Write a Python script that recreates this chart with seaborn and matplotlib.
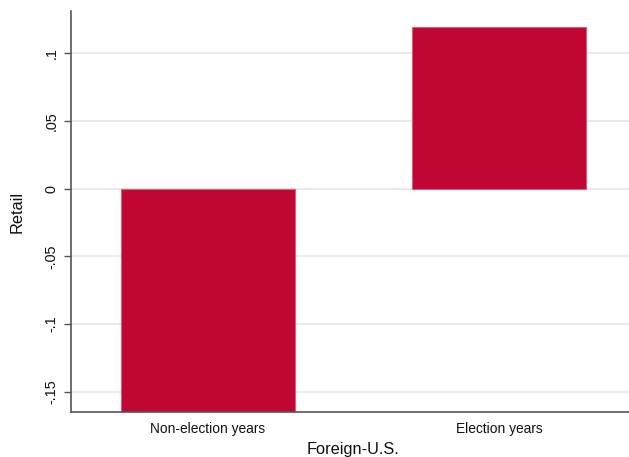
import matplotlib
matplotlib.use("Agg")
import matplotlib.pyplot as plt
import seaborn as sns
import pandas as pd

categories = ["Non-election years", "Election years"]
values = [-0.165, 0.119]
ytick_values = [-0.15, -0.1, -0.05, 0, 0.05, 0.1]
ytick_labels = ["-.15", "-.1", "-.05", "0", ".05", ".1"]

sns.set_theme(style="white")
plt.rcParams['font.family'] = ['Liberation Sans', 'DejaVu Sans']

df = pd.DataFrame({"group": categories, "value": values})

fig = plt.figure(figsize=(6.29, 4.57), dpi=100)
ax = fig.add_axes([0.1129, 0.0974, 1.011 - 0.1129, 0.976 - 0.0974])

ax.set_axisbelow(True)
ax.yaxis.grid(True, color="#E6E6E6", linewidth=1.2)
ax.xaxis.grid(False)

sns.barplot(data=df, x="group", y="value", order=categories, color="#C00633",
            saturation=1, width=0.595, edgecolor="#D9607A", linewidth=0.8, ax=ax)

ax.set_xlim(-0.47, 1.47)
ax.set_ylim(-0.1653, 0.1312)
ax.set_yticks(ytick_values)
ax.set_yticklabels(ytick_labels, rotation=90, va="center", fontsize=10.4, color="#111111")
ax.tick_params(axis="y", which="major", left=True, length=5, width=1, color="#555555", pad=4)
ax.tick_params(axis="x", length=0, pad=7, labelsize=9.9, labelcolor="#111111")

for s in ["top", "right"]:
    ax.spines[s].set_visible(False)
for s in ["left", "bottom"]:
    ax.spines[s].set_color("#555555")
    ax.spines[s].set_linewidth(1.2)

ax.set_xlabel("Foreign-U.S.", fontsize=11.8, color="#111111", labelpad=4)
ax.set_ylabel("Retail", fontsize=11.8, color="#111111", labelpad=14)

fig.savefig("out.png", dpi=100, facecolor="white")
